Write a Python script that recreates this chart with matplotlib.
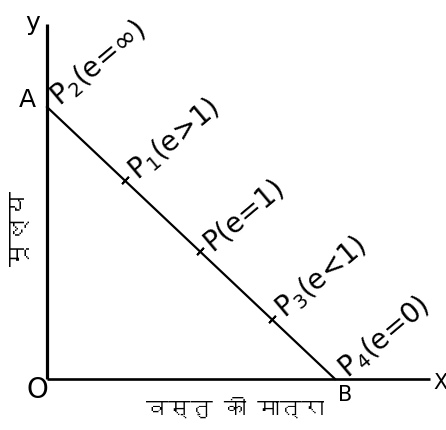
import matplotlib
matplotlib.use("Agg")
import matplotlib.pyplot as plt
from matplotlib import font_manager
from matplotlib.ft2font import FT2Font

# ---- data ----
price_intercept = 10.0      # point A on the price axis
quantity_intercept = 10.0   # point B on the quantity axis
point_quantities = [0.0, 2.7, 5.3, 7.8, 10.0]
point_labels = ["P$_2$(e=∞)", "P$_1$(e>1)", "P(e=1)", "P$_3$(e<1)", "P$_4$(e=0)"]
y_axis_label = "मूल्य"
x_axis_label = "वस्तु की मात्रा"
axis_end_x = 13.3
axis_end_y = 13.05


def find_devanagari_font():
    for f in font_manager.fontManager.ttflist:
        try:
            cmap = FT2Font(f.fname).get_charmap()
        except Exception:
            continue
        if 0x092E in cmap and 0x0942 in cmap and 0x094D in cmap:
            return f.name
    return None


deva = find_devanagari_font()
deva_family = [deva, "DejaVu Sans"] if deva else ["DejaVu Sans"]

fig = plt.figure(figsize=(4.46, 4.30), dpi=100)
ax = fig.add_axes([0, 0, 1, 1])
ax.set_xlim(-1.632, 13.854)
ax.set_ylim(-1.875, 13.934)
ax.axis("off")

# axes
ax.plot([0, 0], [0, axis_end_y], color="black", lw=2.3, solid_capstyle="butt")
ax.plot([0, axis_end_x], [0, 0], color="black", lw=1.9, solid_capstyle="butt")

# demand line
slope = price_intercept / quantity_intercept
ax.plot([0, quantity_intercept], [price_intercept, 0], color="black", lw=1.6)

prices = [price_intercept - slope * q for q in point_quantities]
# small ticks at the interior points
ax.plot(point_quantities[1:4], prices[1:4], linestyle="none", marker=(2, 2, -43),
        markersize=7, markeredgewidth=1.4, color="black")

for q, p, lab in zip(point_quantities, prices, point_labels):
    ax.annotate(lab, (q, p), xytext=(9, 0), textcoords="offset points",
                rotation=40, rotation_mode="anchor", ha="left", va="baseline",
                fontsize=20, color="black")

# letters
ax.text(-0.49, 13.09, "y", fontsize=18, ha="center", va="center")
ax.text(-0.69, 10.26, "A", fontsize=18, ha="center", va="center")
ax.text(-0.35, -0.40, "O", fontsize=20, ha="center", va="center")
ax.text(10.35, -0.59, "B", fontsize=15, ha="center", va="center")
ax.text(13.65, -0.15, "X", fontsize=15, ha="center", va="center")

ax.text(-0.94, 5.55, y_axis_label, rotation=90, fontsize=18,
        ha="center", va="center", family=deva_family, fontweight="bold")
ax.text(6.53, -1.07, x_axis_label, fontsize=16,
        ha="center", va="center", family=deva_family)

fig.savefig("out.png", dpi=100, facecolor="white")
